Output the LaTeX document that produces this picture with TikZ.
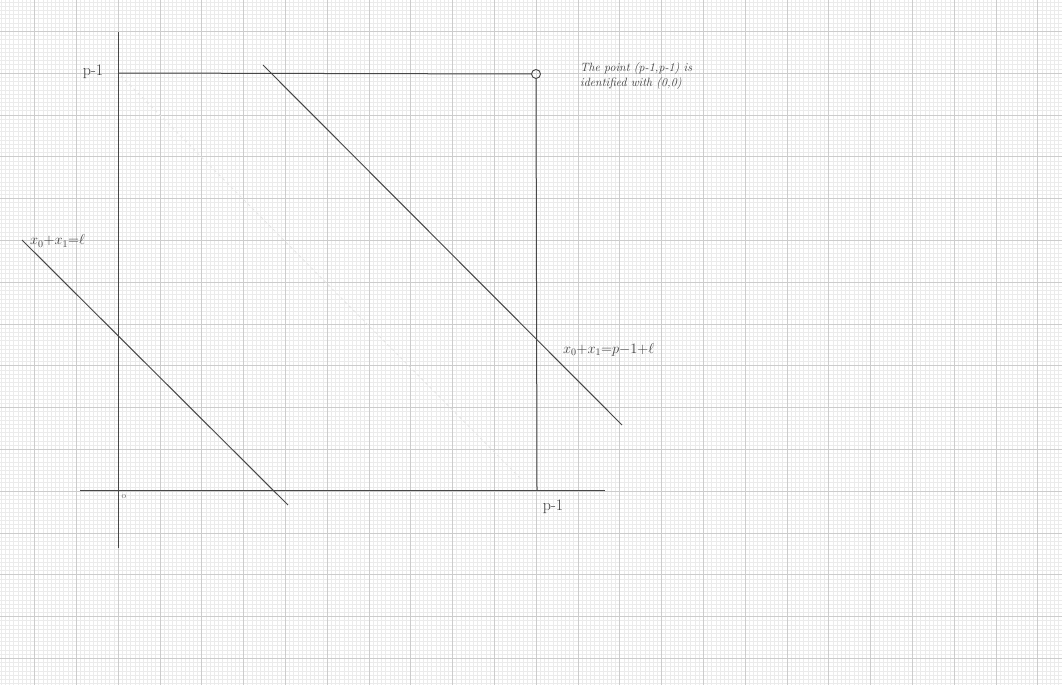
\documentclass[tikz,border=0pt]{standalone}
\usepackage{amsmath}
\begin{document}
\begin{tikzpicture}[x=1pt,y=-1pt,
  minor/.style={draw=black!8, line width=0.35pt},
  major/.style={draw=black!20, line width=0.55pt},
  pen/.style={draw=black!72, line width=1pt},
  faint/.style={draw=black!10, line width=0.8pt, dash pattern=on 3pt off 3pt},
  hand/.style={text=black!75, inner sep=0pt, font=\fontsize{16}{18}\selectfont},
  note/.style={text=black!75, inner sep=0pt, align=left, font=\itshape\fontsize{12}{15}\selectfont}]
\useasboundingbox (0,0) rectangle (1062,685);
\fill[white] (0,0) rectangle (1062,685);
% graph paper
\foreach \i in {0,...,256} \draw[minor] ({-7.4+4.18*\i},0) -- ++(0,685);
\foreach \i in {0,...,166} \draw[minor] (0,{-10.6+4.18*\i}) -- ++(1062,0);
\foreach \i in {0,...,26} \draw[major] ({-7.4+41.8*\i},0) -- ++(0,685);
\foreach \i in {0,...,17} \draw[major] (0,{-10.6+41.8*\i}) -- ++(1062,0);
% coordinates
\coordinate (ytop) at (118,32);
\coordinate (ybot) at (118,548);
\coordinate (xl) at (80,490);
\coordinate (xr) at (605,490);
\coordinate (tl) at (118,73);
\coordinate (cr) at (536,74);
\coordinate (rb) at (537,490);
\coordinate (aS) at (22,240);
\coordinate (aE) at (288,505);
\coordinate (bS) at (263,65);
\coordinate (bE) at (622,425);
% faint erased diagonal
\draw[faint] (121,76) -- (520,478);
% axes
\draw[pen] (ytop) -- (ybot);
\draw[pen] (xl) -- (xr);
% square
\node[draw=black!72, line width=0.9pt, circle, minimum size=9pt, inner sep=0pt] (pt) at (cr) {};
\draw[pen] (tl) -- (pt.west);
\draw[pen] (pt.south) -- (rb);
% diagonal lines
\draw[pen] (aS) -- (aE);
\draw[pen] (bS) -- (bE);
% labels
\node[hand] (lp1) at (93,72) {p-1};
\node[hand] (lp2) at (553,507) {p-1};
\node[text=black!55, inner sep=0pt, font=\fontsize{9}{9}\selectfont] (l0) at (124,497) {o};
\node[hand, anchor=west, font=\fontsize{14.5}{17}\selectfont] (la) at (30,241) {$x_0{+}x_1{=}\ell$};
\node[hand, anchor=west, font=\fontsize{14.5}{17}\selectfont] (lb) at (563,350) {$x_0{+}x_1{=}p{-}1{+}\ell$};
\node[note, anchor=north west] (ln) at (580,62) {The point (p-1,p-1) is\\identified with (0,0)};
\end{tikzpicture}
\end{document}
